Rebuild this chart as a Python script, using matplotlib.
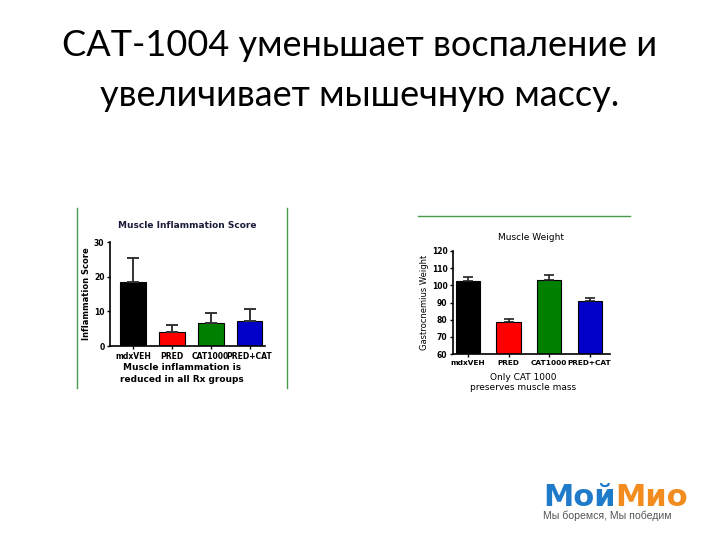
import matplotlib
matplotlib.use("Agg")
import matplotlib.pyplot as plt
import numpy as np

W, H = 720, 540

# --- data ---
groups = ["mdxVEH", "PRED", "CAT1000", "PRED+CAT"]
bar_colors = ["#000000", "#ff0000", "#008000", "#0000c8"]

inflam_mean = [18.5, 4.0, 6.7, 7.1]
inflam_err = [6.8, 2.0, 2.8, 3.7]
inflam_ticks = [0, 10, 20, 30]

weight_mean = [102.6, 78.4, 103.0, 90.6]
weight_err = [2.5, 2.1, 3.3, 2.3]
weight_ticks = [60, 70, 80, 90, 100, 110, 120]

title_lines = ["CAT-1004 уменьшает воспаление и", "увеличивает мышечную массу."]
logo_parts = ["Мой", "Мио"]
logo_slogan = "Мы боремся, Мы победим"


def px_axes(fig, x0, y0, x1, y1):
    # pixel box (top-left origin) -> figure fraction axes
    return fig.add_axes([x0 / W, 1 - y1 / H, (x1 - x0) / W, (y1 - y0) / H])


def style_axes(ax):
    for s in ["top", "right"]:
        ax.spines[s].set_visible(False)
    for s in ["left", "bottom"]:
        ax.spines[s].set_linewidth(1.2)
    ax.tick_params(axis="both", labelsize=5.5, width=1.0, length=2.5, pad=1.5)
    for lbl in ax.get_xticklabels() + ax.get_yticklabels():
        lbl.set_fontweight("bold")


fig = plt.figure(figsize=(W / 100, H / 100), dpi=100)
fig.patch.set_facecolor("white")

# slide title
fig.text(360 / W, 1 - 45 / H, title_lines[0], ha="center", va="center",
         fontsize=26, family="Lato", color="black")
fig.text(360 / W, 1 - 95 / H, title_lines[1], ha="center", va="center",
         fontsize=26, family="Lato", color="black")

# green frame lines around the pictures
fig.add_artist(plt.Line2D([77 / W, 77 / W], [1 - 208 / H, 1 - 388 / H], color="#4a9a4a", lw=1.0))
fig.add_artist(plt.Line2D([287 / W, 287 / W], [1 - 208 / H, 1 - 388 / H], color="#4a9a4a", lw=1.0))
fig.add_artist(plt.Line2D([418 / W, 630 / W], [1 - 216 / H, 1 - 216 / H], color="#4a9a4a", lw=1.0))

# --- left chart: inflammation score ---
ax1 = px_axes(fig, 110, 242, 265, 346)
x = np.arange(len(groups))
ax1.bar(x, inflam_mean, width=0.66, color=bar_colors, edgecolor="black", linewidth=0.8)
ax1.errorbar(x, inflam_mean, yerr=[np.zeros(4), inflam_err], fmt="none",
             ecolor="#333333", elinewidth=1.4, capsize=4, capthick=1.4)
ax1.set_xlim(-0.6, 3.4)
ax1.set_ylim(0, 30)
ax1.set_yticks(inflam_ticks)
ax1.set_xticks(x)
ax1.set_xticklabels(groups)
style_axes(ax1)
ax1.set_ylabel("Inflammation Score", fontsize=6, fontweight="bold", labelpad=2)
ax1.set_title("Muscle Inflammation Score", fontsize=6.5, fontweight="bold",
              color="#1a1a3a", pad=10)
fig.text(182 / W, 1 - 368 / H, "Muscle inflammation is", ha="center", va="center",
         fontsize=6.5, fontweight="bold")
fig.text(182 / W, 1 - 380 / H, "reduced in all Rx groups", ha="center", va="center",
         fontsize=6.5, fontweight="bold")

# --- right chart: muscle weight ---
ax2 = px_axes(fig, 453, 251, 610, 354)
x2 = np.arange(len(groups))
ax2.bar(x2, weight_mean, width=0.6, color=bar_colors, edgecolor="black", linewidth=0.8)
ax2.errorbar(x2, weight_mean, yerr=[np.zeros(4), weight_err], fmt="none",
             ecolor="#222222", elinewidth=1.2, capsize=3.5, capthick=1.2)
ax2.set_xlim(-0.37, 3.5)
ax2.set_ylim(60, 120)
ax2.set_yticks(weight_ticks)
ax2.set_xticks(x2)
ax2.set_xticklabels(groups)
style_axes(ax2)
ax2.tick_params(axis="x", labelsize=5.3)
ax2.set_ylabel("Gastrocnemius Weight", fontsize=6, labelpad=2)
ax2.set_title("Muscle Weight", fontsize=6.5, pad=8)
fig.text(523 / W, 1 - 377 / H, "Only CAT 1000", ha="center", va="center", fontsize=6.5)
fig.text(523 / W, 1 - 388 / H, "preserves muscle mass", ha="center", va="center", fontsize=6.5)

# --- logo: two coloured halves set side by side ---
renderer = fig.canvas.get_renderer()
t1 = fig.text(543 / W, 1 - 506 / H, logo_parts[0], ha="left", va="baseline", fontsize=22,
              fontweight="bold", color="#1f7bc9", family="DejaVu Sans")
bb = t1.get_window_extent(renderer)
fig.text(bb.x1 / W, 1 - 506 / H, logo_parts[1], ha="left", va="baseline", fontsize=22,
         fontweight="bold", color="#f28c1e", family="DejaVu Sans")
fig.text(543 / W, 1 - 516 / H, logo_slogan, ha="left", va="center",
         fontsize=7.6, color="#555555", family="Liberation Sans")

fig.savefig("out.png", dpi=100, facecolor="white")
